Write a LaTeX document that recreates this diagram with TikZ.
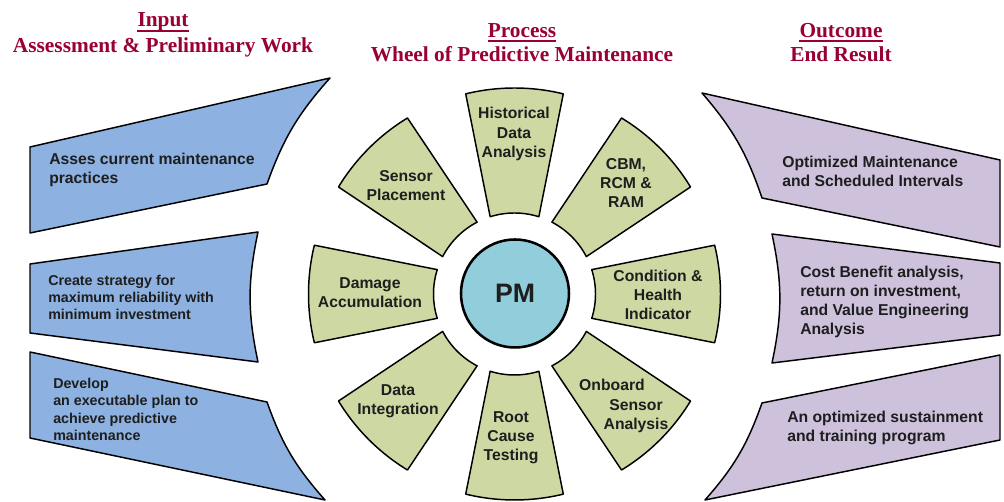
\documentclass[tikz,border=0pt]{standalone}
\usepackage{fontspec}
\setmainfont{Liberation Serif}
\setsansfont{Liberation Sans}
\definecolor{titlered}{RGB}{153,0,51}
\definecolor{wheelgreen}{RGB}{206,216,163}
\definecolor{inblue}{RGB}{141,178,226}
\definecolor{outpurple}{RGB}{205,193,220}
\definecolor{pmcyan}{RGB}{146,205,220}
\definecolor{txtgray}{RGB}{30,30,30}
\tikzset{
  titletext/.style={font=\fontsize{16}{19}\selectfont\bfseries, text=titlered, inner sep=0pt, anchor=base},
  uline/.style={draw=titlered, line width=1.5pt},
  wseg/.style={fill=wheelgreen, draw=black, line width=1.1pt, line join=round},
  inshape/.style={fill=inblue, draw=black, line width=1.1pt, line join=round},
  outshape/.style={fill=outpurple, draw=black, line width=1.1pt, line join=round},
  segtext/.style={font=\sffamily\bfseries\fontsize{11.8}{14.3}\selectfont, text=txtgray, align=center, inner sep=0pt},
  boxtext/.style={font=\sffamily\bfseries\fontsize{11.8}{14.4}\selectfont, text=txtgray, align=left, inner sep=0pt, anchor=west},
  boxtextsm/.style={font=\sffamily\bfseries\fontsize{10.7}{12.9}\selectfont, text=txtgray, align=left, inner sep=0pt, anchor=west},
  pmnode/.style={circle, draw=black, line width=1.9pt, fill=pmcyan, minimum size=81pt, inner sep=0pt,
    font=\sffamily\bfseries\fontsize{20}{24}\selectfont, text=txtgray}
}
\begin{document}
\begin{tikzpicture}[x=0.75pt, y=0.75pt]
\fill[white] (0,0) rectangle (1004,502);
\useasboundingbox (0,0) rectangle (1004,502);

% titles
\node[titletext] (tin) at (163,475) {Input};
\node[titletext] (tin2) at (163,449.5) {Assessment \& Preliminary Work};
\node[titletext] (tpr) at (522,464.5) {Process};
\node[titletext] (tpr2) at (522,440) {Wheel of Predictive Maintenance};
\node[titletext] (tout) at (841,464.5) {Outcome};
\node[titletext] (tout2) at (841,440) {End Result};
\draw[uline] ([yshift=-3pt]tin.base west) -- ([yshift=-3pt]tin.base east);
\draw[uline] ([yshift=-3pt]tpr.base west) -- ([yshift=-3pt]tpr.base east);
\draw[uline] ([yshift=-3pt]tout.base west) -- ([yshift=-3pt]tout.base east);

% input shapes
\draw[inshape] (30,355) -- (330,424) to[bend right=11] (267,318) -- (30,269) -- cycle;
\draw[inshape] (30,238) -- (258,270) to[bend right=12] (258,140) -- (30,169) -- cycle;
\draw[inshape] (30,150) -- (267,100) to[bend right=11] (325,2) -- (30,64) -- cycle;

% outcome shapes
\draw[outshape] (762,304) to[bend right=11] (702,409) -- (1000,342) -- (1000,255) -- cycle;
\draw[outshape] (772,139) to[bend right=12] (772,268) -- (1000,239) -- (1000,167) -- cycle;
\draw[outshape] (762,99) to[bend left=11] (705,2) -- (1000,62) -- (1000,147) -- cycle;

% wheel segments
\begin{scope}[shift={(514.5,208)}]
\foreach \a in {0,45,...,315} {
  \draw[wseg] (\a-13.7:206) arc[start angle=\a-13.7, end angle=\a+13.7, radius=154.5pt]
    -- (\a+17.5:81) arc[start angle=\a+17.5, end angle=\a-17.5, radius=60.75pt] -- cycle;
}
\end{scope}

\node[pmnode] (pm) at (515,208.5) {PM};

% wheel texts
\node[segtext] (hist) at (514,368) {Historical\\Data\\Analysis};
\node[segtext] (cbm) at (626,319) {CBM,\\RCM \&\\RAM};
\node[segtext] (sens) at (406,316) {Sensor\\Placement};
\node[segtext] (dam) at (370,209) {Damage\\Accumulation};
\node[segtext] (cond) at (658,207) {Condition \&\\Health\\Indicator};
\node[segtext] (dint) at (398,101) {Data\\Integration};
\node[segtext] (root) at (511,64) {Root\\Cause\\Testing};
\node[segtext] (onb) at (636,96) {Onboard\hspace*{36pt}\\Sensor\\Analysis};

% box texts
\node[boxtext] (l1) at (49,332) {Asses current maintenance\\practices};
\node[boxtextsm] (l2) at (48,204.5) {Create strategy for\\maximum reliability with\\minimum investment};
\node[boxtextsm] (l3) at (53,92.5) {Develop\\an executable plan to\\achieve predictive\\maintenance};
\node[boxtext] (r1) at (782,331) {Optimized Maintenance\\and Scheduled Intervals};
\node[boxtext] (r2) at (800,200) {Cost Benefit analysis,\\return on investment,\\and Value Engineering\\Analysis};
\node[boxtext] (r3) at (787,74) {An optimized sustainment\\and training program};
\end{tikzpicture}
\end{document}
